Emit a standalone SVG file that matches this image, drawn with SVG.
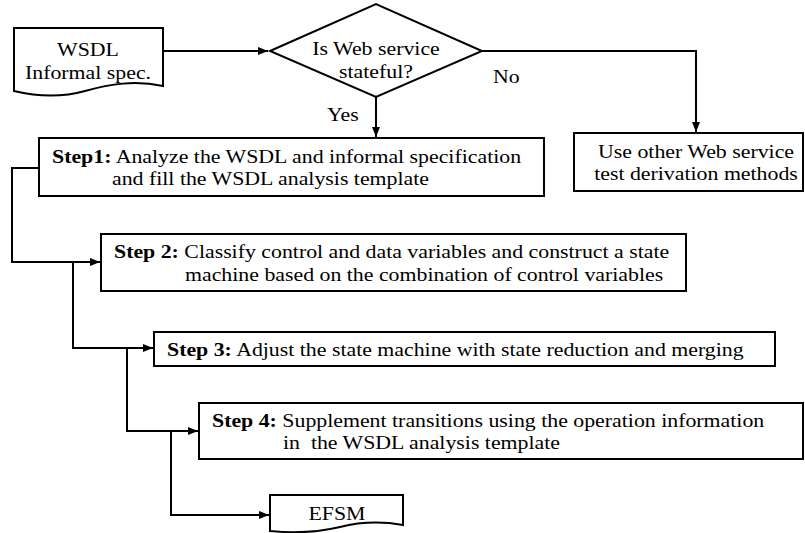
<svg xmlns="http://www.w3.org/2000/svg" width="805" height="533" viewBox="0 0 805 533">
<style>
.shape{fill:#fff;stroke:#000;stroke-width:2}
text{font-family:'Liberation Serif','DejaVu Serif',serif;font-size:19.5px;fill:#000}
.m{text-anchor:middle}
.b{font-weight:bold}
.c{fill:none;stroke:#000;stroke-width:2}
</style>
<defs>
<marker id="ah" markerUnits="userSpaceOnUse" markerWidth="10" markerHeight="8" refX="10" refY="4" orient="auto">
<path d="M0,0 L10,4 L0,8 Z" fill="#000"/>
</marker>
</defs>
<rect width="805" height="533" fill="#fff"/>
<g id="connectors">
<path class="c" d="M163,51 H268" marker-end="url(#ah)"/>
<path class="c" d="M376,97 V137" marker-end="url(#ah)"/>
<path class="c" d="M482,51 H696 V132" marker-end="url(#ah)"/>
<path class="c" d="M39,168 H12 V262 H100" marker-end="url(#ah)"/>
<path class="c" d="M73,262 V348 H153" marker-end="url(#ah)"/>
<path class="c" d="M127,348 V431 H198" marker-end="url(#ah)"/>
<path class="c" d="M171,431 V515 H269" marker-end="url(#ah)"/>
<text font-family="Liberation Serif, serif" transform="matrix(1.12,0,0,1,327,121)">Yes</text>
<text font-family="Liberation Serif, serif" transform="matrix(1.12,0,0,1,493,83)">No</text>
</g>
<g id="input">
<path class="shape" d="M14,28 H163 V86 C135,80 110,84 85,91 C60,98 35,96 14,91 Z"/>
<text class="m" transform="matrix(1.12,0,0,1,88,56)">WSDL</text>
<text class="m" transform="matrix(1.12,0,0,1,88,79)">Informal spec.</text>
</g>
<g id="decision">
<polygon class="shape" points="270,51 376,4 482,51 376,97"/>
<text class="m" transform="matrix(1.12,0,0,1,376,55)">Is Web service</text>
<text class="m" transform="matrix(1.12,0,0,1,376,78)">stateful?</text>
</g>
<g id="other">
<rect class="shape" x="574" y="133" width="229" height="58"/>
<text class="m" transform="matrix(1.12,0,0,1,696,157.5)">Use other Web service</text>
<text class="m" transform="matrix(1.12,0,0,1,696,180)">test derivation methods</text>
</g>
<g id="step1">
<rect class="shape" x="39" y="138" width="505" height="58"/>
<text transform="matrix(1.12,0,0,1,52,162.5)"><tspan class="b">Step1:</tspan> Analyze the WSDL and informal specification</text>
<text transform="matrix(1.12,0,0,1,112,185)">and fill the WSDL analysis template</text>
</g>
<g id="step2">
<rect class="shape" x="101" y="234" width="585" height="57"/>
<text transform="matrix(1.12,0,0,1,114,258)"><tspan class="b">Step 2:</tspan> Classify control and data variables and construct a state</text>
<text transform="matrix(1.12,0,0,1,185,280.5)">machine based on the combination of control variables</text>
</g>
<g id="step3">
<rect class="shape" x="154" y="332" width="621" height="34"/>
<text transform="matrix(1.12,0,0,1,167,355.5)"><tspan class="b">Step 3:</tspan> Adjust the state machine with state reduction and merging</text>
</g>
<g id="step4">
<rect class="shape" x="199" y="403" width="604" height="56"/>
<text transform="matrix(1.12,0,0,1,212,426.5)"><tspan class="b">Step 4:</tspan> Supplement transitions using the operation information</text>
<text xml:space="preserve" transform="matrix(1.12,0,0,1,283,449)">in  the WSDL analysis template</text>
</g>
<g id="efsm">
<path class="shape" d="M270,495 H403 V525 C380,521 360,522 340,527 C315,533 290,533 270,531 Z"/>
<text class="m" transform="matrix(1.12,0,0,1,337,520)">EFSM</text>
</g>
</svg>
